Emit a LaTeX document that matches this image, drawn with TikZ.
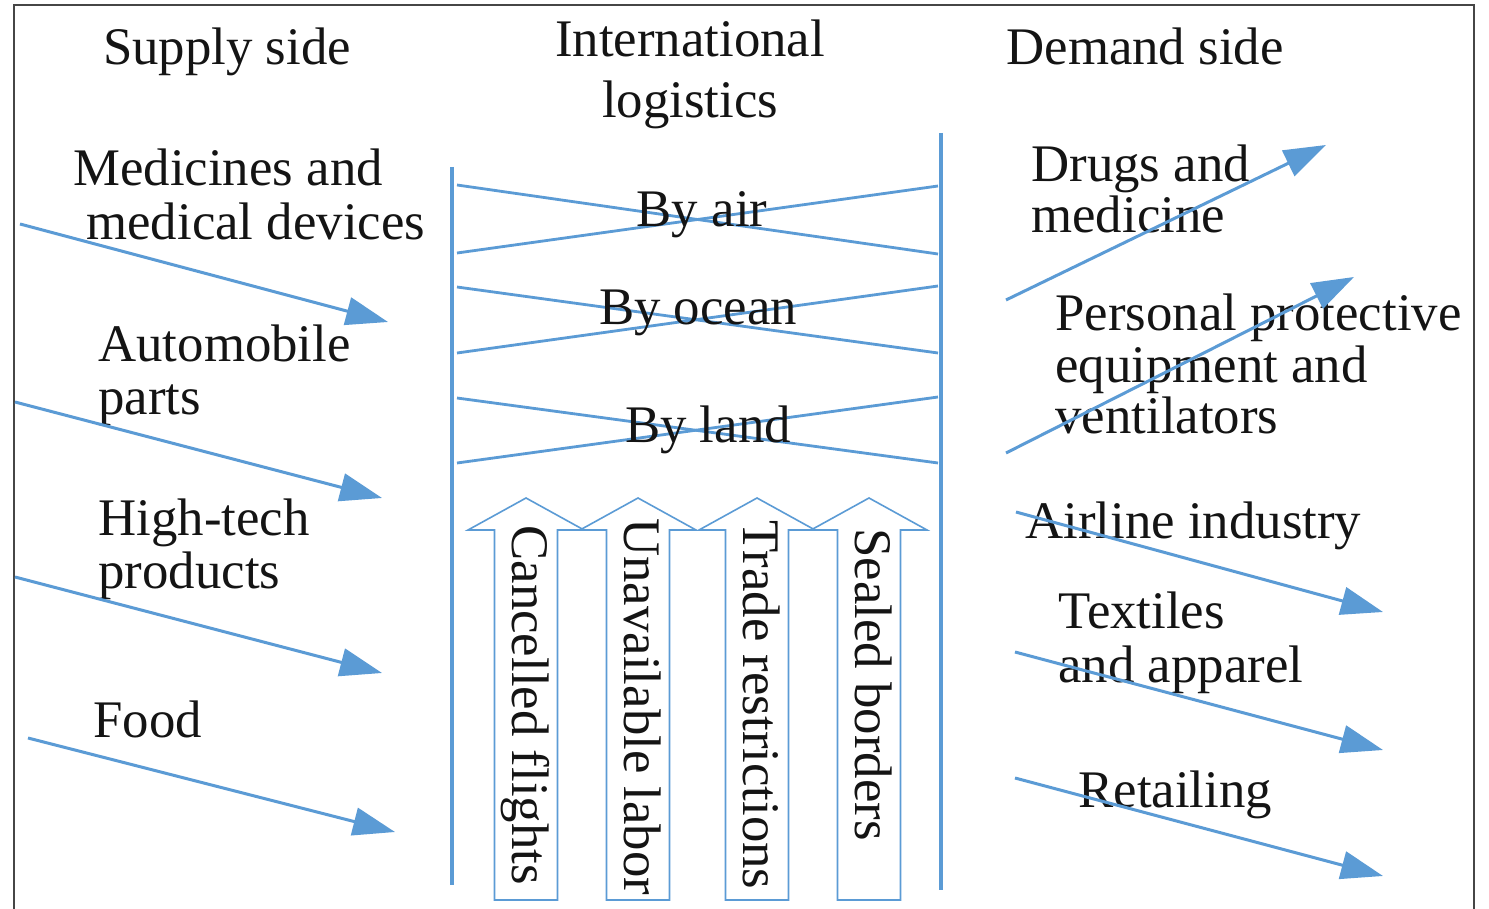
\documentclass[tikz,border=0pt]{standalone}
\usepackage{fontspec}
\setmainfont{Liberation Serif}
\usetikzlibrary{arrows.meta}
\definecolor{flowblue}{RGB}{91,155,213}
\definecolor{framegray}{RGB}{70,70,70}
\definecolor{inkblack}{RGB}{20,20,20}

\begin{document}
\begin{tikzpicture}[x=0.5pt,y=-0.5pt,
  lbl/.style={font=\fontsize{26.4}{27}\selectfont, text=inkblack, inner sep=0pt},
  lline/.style={lbl, anchor=base west},
  cline/.style={lbl, anchor=base},
  vlbl/.style={lbl, rotate=-90, anchor=base west},
  flow/.style={draw=flowblue, line width=1.5pt, -{Triangle[length=21pt,width=14pt]}},
  band/.style={draw=flowblue, line width=1.4pt},
  rail/.style={draw=flowblue, line width=#1},
  blockarrow/.style={draw=flowblue, line width=0.8pt, fill=white, line join=miter},
]
\useasboundingbox (0,0) rectangle (1489,909);
\fill[white] (0,0) rectangle (1489,909);

% outer frame (open at the bottom edge)
\draw[framegray, line width=1.3pt] (14,912) -- (14,5) -- (1474,5) -- (1474,912);

% column headings
\node[cline] (supply) at (227,65) {Supply side};
\node[cline] (intlA) at (690,57) {International};
\node[cline] (intlB) at (690,118) {logistics};
\node[cline] (demand) at (1145,65) {Demand side};

% supply side goods
\node[lline] (medA) at (73,186) {Medicines and};
\node[lline] (medB) at (86,240) {medical devices};
\node[lline] (autoA) at (98,362) {Automobile};
\node[lline] (autoB) at (98,415) {parts};
\node[lline] (techA) at (98,535) {High-tech};
\node[lline] (techB) at (98,588) {products};
\node[lline] (food) at (93,737) {Food};

% demand side sectors
\node[lline] (drugA) at (1031,182) {Drugs and};
\node[lline] (drugB) at (1031,233) {medicine};
\node[lline] (ppeA) at (1055,330) {Personal protective};
\node[lline] (ppeB) at (1055,382) {equipment and};
\node[lline] (ppeC) at (1055,433) {ventilators};
\node[lline] (air) at (1025,538) {Airline industry};
\node[lline] (texA) at (1058,628) {Textiles};
\node[lline] (texB) at (1058,682) {and apparel};
\node[lline] (retail) at (1078,807) {Retailing};

% logistics channel rails
\coordinate (railLtop) at (452,167);
\coordinate (railLbot) at (452,885);
\coordinate (railRtop) at (941,133);
\coordinate (railRbot) at (941,890);
\draw[rail=2.2pt] (railLtop) -- (railLbot);
\draw[rail=1.6pt] (railRtop) -- (railRbot);

% transport modes: crossed bands between the rails
\coordinate (airTL) at (457,185);  \coordinate (airTR) at (938,186);
\coordinate (airBL) at (457,253);  \coordinate (airBR) at (938,254);
\coordinate (seaTL) at (457,287);  \coordinate (seaTR) at (938,286);
\coordinate (seaBL) at (457,353);  \coordinate (seaBR) at (938,353);
\coordinate (lndTL) at (457,398);  \coordinate (lndTR) at (938,397);
\coordinate (lndBL) at (457,463);  \coordinate (lndBR) at (938,463);
\draw[band] (airTL) -- (airBR);
\draw[band] (airBL) -- (airTR);
\draw[band] (seaTL) -- (seaBR);
\draw[band] (seaBL) -- (seaTR);
\draw[band] (lndTL) -- (lndBR);
\draw[band] (lndBL) -- (lndTR);
\node[cline] (byair) at (702,227) {By air};
\node[cline] (byocean) at (698,325) {By ocean};
\node[cline] (byland) at (708,442) {By land};

% disruptions pushing up into the channel
\foreach \c/\s/\name/\txt in {526/525/cf/Cancelled flights,
                              638/518/ul/Unavailable labor,
                              757/520/tr/Trade restrictions,
                              869/528/sb/Sealed borders}{
  \path[blockarrow] (\c-31.5,900) -- (\c-31.5,530) -- (\c-58,530) -- (\c,498)
        -- (\c+58,530) -- (\c+31.5,530) -- (\c+31.5,900) -- cycle;
  \node[vlbl] (\name) at (\c-14,\s) {\txt};
}

% supply flows into the channel
\coordinate (s1a) at (20,224);  \coordinate (s1b) at (388,322);
\coordinate (s2a) at (15,402);  \coordinate (s2b) at (382,498);
\coordinate (s3a) at (15,577);  \coordinate (s3b) at (382,673);
\coordinate (s4a) at (28,738);  \coordinate (s4b) at (395,832);
\draw[flow] (s1a) -- (s1b);
\draw[flow] (s2a) -- (s2b);
\draw[flow] (s3a) -- (s3b);
\draw[flow] (s4a) -- (s4b);

% demand flows: rising and falling sectors
\coordinate (d1a) at (1006,300);  \coordinate (d1b) at (1326,145);
\coordinate (d2a) at (1006,453);  \coordinate (d2b) at (1354,277);
\coordinate (d3a) at (1016,512);  \coordinate (d3b) at (1383,612);
\coordinate (d4a) at (1015,652);  \coordinate (d4b) at (1383,750);
\coordinate (d5a) at (1015,778);  \coordinate (d5b) at (1383,876);
\draw[flow] (d1a) -- (d1b);
\draw[flow] (d2a) -- (d2b);
\draw[flow] (d3a) -- (d3b);
\draw[flow] (d4a) -- (d4b);
\draw[flow] (d5a) -- (d5b);
\end{tikzpicture}
\end{document}
